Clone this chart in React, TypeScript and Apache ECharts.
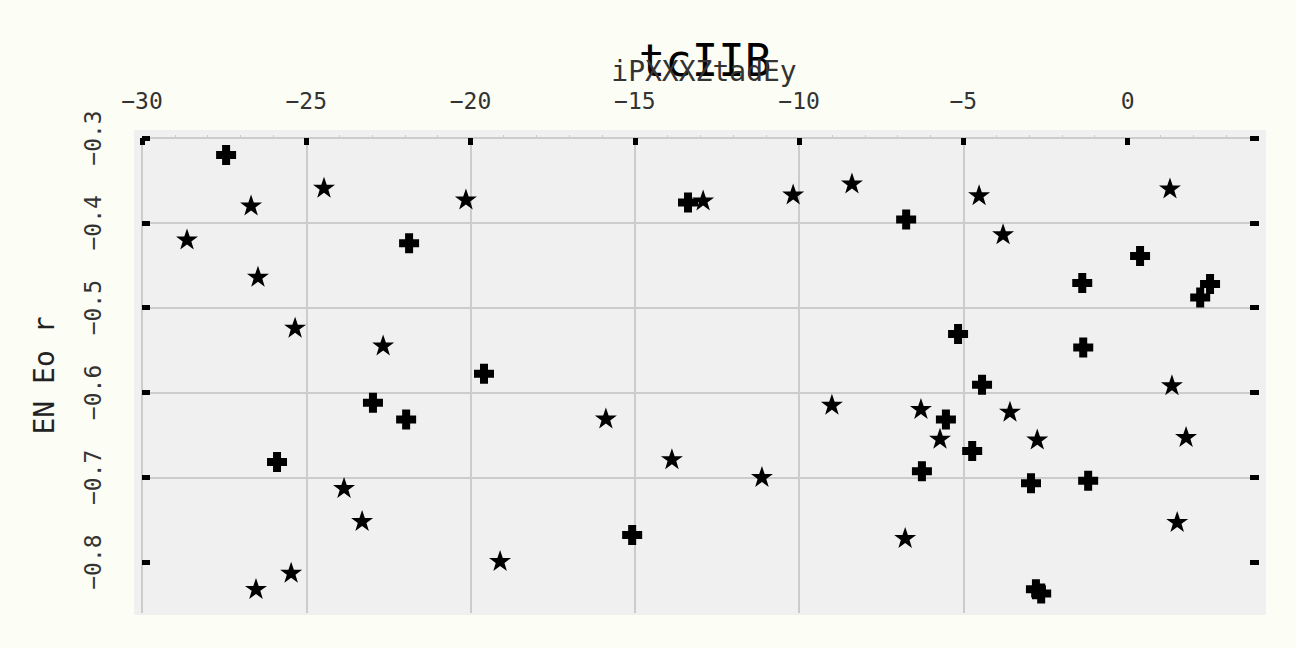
import React, { useEffect, useRef } from "react";
import * as echarts from "echarts";

const titleText = "tcIIB";
const subtitleText = "iPXXXZtadEy";
const yAxisName = "EN Eo r";

const xTicks = [-30, -25, -20, -15, -10, -5, 0];
const yTicks = [-0.8, -0.7, -0.6, -0.5, -0.4, -0.3];

const starX = [-28.63, -26.68, -26.47, -24.46, -25.34, -22.66, -20.14, -26.53, -25.46, -23.85, -23.3, -19.1, -15.88, -13.87, -12.92, -11.13, -10.18, -8.39, -9.0, -6.77, -6.29, -5.71, -4.52, -3.79, -3.58, -2.75, 1.29, 1.35, 1.78, 1.51];
const starY = [-0.419, -0.379, -0.463, -0.358, -0.523, -0.544, -0.372, -0.831, -0.812, -0.712, -0.751, -0.798, -0.63, -0.678, -0.373, -0.699, -0.366, -0.353, -0.614, -0.771, -0.619, -0.654, -0.367, -0.413, -0.622, -0.655, -0.359, -0.591, -0.652, -0.752];

const plusX = [-27.44, -21.87, -19.59, -22.97, -21.96, -25.89, -15.08, -13.38, -6.74, -5.16, -4.43, -5.53, -6.26, -4.73, -2.94, -1.2, -1.38, -1.35, 0.38, 2.21, 2.51, -2.79, -2.63];
const plusY = [-0.32, -0.424, -0.578, -0.612, -0.632, -0.682, -0.768, -0.376, -0.396, -0.531, -0.591, -0.632, -0.693, -0.669, -0.707, -0.704, -0.471, -0.547, -0.439, -0.488, -0.472, -0.832, -0.837];

const xMin = -30;
const xMax = 4;
const xInterval = 5;
const yMin = -0.86;
const yMax = -0.3;

const STAR = "path://M50,0 L61.8,34.5 L97.6,34.5 L68.8,55.9 L79.4,90.5 L50,69.1 L20.6,90.5 L31.2,55.9 L2.4,34.5 L38.2,34.5 Z";
const PLUS = "path://M6,0 H14 V6 H20 V14 H14 V20 H6 V14 H0 V6 H6 Z";

const FONT = "DejaVu Sans Mono";
const fmt = (v: number) => String(Math.round(v * 100) / 100).replace("-", "\u2212");

export default function App() {
  const ref = useRef<HTMLDivElement>(null);
  useEffect(() => {
    if (!ref.current) return;
    const chart = echarts.init(ref.current, undefined, { renderer: "svg" });
    const starData = starX.map((x, i) => [x, starY[i]]);
    const plusData = plusX.map((x, i) => [x, plusY[i]]);
    chart.setOption({
      animation: false,
      backgroundColor: "#fcfdf5",
      title: [
        {
          text: titleText,
          left: 700,
          top: 33,
          textAlign: "center",
          textStyle: { fontFamily: FONT, fontSize: 44, fontWeight: "normal", color: "#000" },
        },
        {
          text: subtitleText,
          left: 699,
          top: 52,
          textAlign: "center",
          textStyle: { fontFamily: FONT, fontSize: 28, fontWeight: "normal", color: "#333" },
        },
      ],
      graphic: [
        {
          type: "rect",
          z: -100,
          shape: { x: 134, y: 130, width: 1132, height: 485 },
          style: { fill: "#f0f0f0" },
        },
      ],
      grid: { left: 142, top: 138, right: 37, bottom: 35 },
      xAxis: [
        {
          type: "value",
          position: "top",
          min: xMin,
          max: xMax,
          interval: xInterval,
          axisLine: { show: false, onZero: false },
          axisTick: { show: true, inside: true, length: 7, customValues: xTicks, lineStyle: { color: "#000", width: 5 } },
          axisLabel: {
            show: true,
            margin: 26,
            customValues: xTicks,
            fontFamily: FONT,
            fontSize: 23,
            color: "#333",
            formatter: fmt,
          },
          splitLine: { show: true, showMaxLine: false, lineStyle: { color: "#cccccc", width: 2 } },
        },
        {
          type: "value",
          position: "top",
          min: xMin,
          max: xMax,
          interval: xInterval,
          axisLine: { show: false, onZero: false },
          axisTick: { show: false },
          axisLabel: { show: false },
          splitLine: { show: false },
          minorTick: { show: true, splitNumber: 5, length: 3, lineStyle: { color: "#cccccc", width: 1 } },
        },
      ],
      yAxis: [
        {
          type: "value",
          position: "left",
          min: yMin,
          max: yMax,
          splitNumber: 5,
          name: yAxisName,
          nameLocation: "middle",
          nameRotate: 90,
          nameGap: 84,
          nameTextStyle: { fontFamily: FONT, fontSize: 28, color: "#222" },
          axisLine: { show: false, onZero: false },
          axisTick: { show: true, inside: true, length: 8, customValues: yTicks, lineStyle: { color: "#000", width: 5 } },
          axisLabel: {
            show: true,
            rotate: 90,
            margin: 38,
            align: "center",
            verticalAlign: "bottom",
            customValues: yTicks,
            fontFamily: FONT,
            fontSize: 23,
            color: "#333",
            formatter: fmt,
          },
          splitLine: { show: true, showMinLine: false, lineStyle: { color: "#cccccc", width: 2 } },
        },
        {
          type: "value",
          position: "right",
          min: yMin,
          max: yMax,
          splitNumber: 5,
          axisLine: { show: false, onZero: false },
          axisTick: { show: true, inside: true, length: 9, customValues: yTicks, lineStyle: { color: "#000", width: 5 } },
          axisLabel: { show: false },
          splitLine: { show: false },
        },
      ],
      series: [
        {
          type: "scatter",
          name: "star",
          xAxisIndex: 0,
          yAxisIndex: 0,
          data: starData,
          symbol: STAR,
          symbolSize: [22, 21],
          itemStyle: { color: "#000", opacity: 1 },
        },
        {
          type: "scatter",
          name: "plus",
          xAxisIndex: 0,
          yAxisIndex: 0,
          data: plusData,
          symbol: PLUS,
          symbolSize: [20, 20],
          itemStyle: { color: "#000", opacity: 1 },
        },
      ],
    });
    return () => chart.dispose();
  }, []);
  return (
    <div
      ref={ref}
      style={{ position: "fixed", left: 0, top: 0, width: 1296, height: 648 }}
    />
  );
}
